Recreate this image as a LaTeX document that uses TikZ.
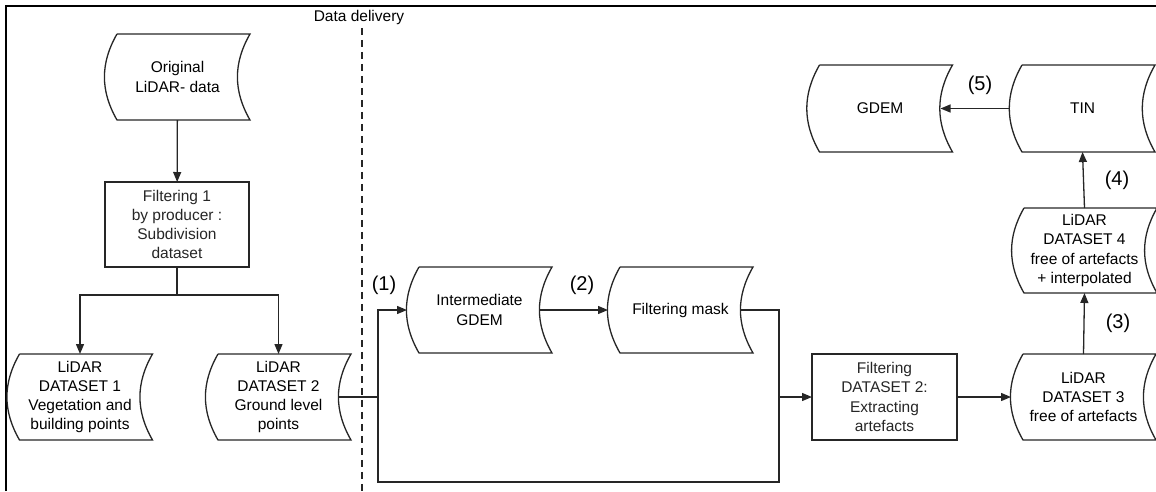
\documentclass[tikz,border=0pt]{standalone}
\usepackage{fontspec}
\setmainfont{Liberation Sans}
\usetikzlibrary{arrows.meta}

\tikzset{
  >={Triangle[length=10pt,width=8pt]},
  flow/.style={line width=1.3pt,black!85},
  stored/.style={minimum width=145pt, minimum height=86pt, inner sep=0pt, outer sep=0pt, align=center,
    append after command={\pgfextra{\draw[flow] ([xshift=12pt]\tikzlastnode.north west) -- (\tikzlastnode.north east)
      to[bend right=30] (\tikzlastnode.south east) -- ([xshift=12pt]\tikzlastnode.south west)
      to[bend left=30] ([xshift=12pt]\tikzlastnode.north west);}}},
  procbox/.style={flow, draw, minimum width=144pt, minimum height=85pt, inner sep=2pt, outer sep=0pt, align=center},
  numlabel/.style={font=\fontsize{20}{24}\selectfont},
}

\begin{document}
\begin{tikzpicture}[x=1pt,y=-1pt,font=\fontsize{15.5}{19.3}\selectfont]
    \useasboundingbox (0,0) rectangle (1156,491);
    \draw [line width=2.5pt] (6,491) -- (6,6) -- (1156,6);

    % data delivery border
    \node (deliv) at (359,17) {Data delivery};
    \coordinate (dl) at (362,491);
    \draw [flow,dash pattern=on 7pt off 5pt] (deliv.south -| dl) -- (dl);

    % producer side
    \node[stored] (orig) at (177.5,77) {Original\\LiDAR- data};
    \node[procbox] (filt1) at (177,224.5) {Filtering 1\\by producer :\\Subdivision\\dataset};
    \node[stored] (ds1) at (80,397) {LiDAR\\DATASET 1\\Vegetation and\\building points};
    \node[stored] (ds2) at (278.5,397) {LiDAR\\DATASET 2\\Ground level\\points};

    % user side
    \node[stored] (igdem) at (479.5,310) {Intermediate\\GDEM};
    \node[stored] (mask) at (680.5,310) {Filtering mask};
    \node[procbox,minimum width=145pt,minimum height=86pt] (filt2) at (884.5,397) {Filtering\\DATASET 2:\\Extracting\\artefacts};
    \node[stored] (ds3) at (1083.5,397) {LiDAR\\DATASET 3\\free of artefacts};
    \node[stored,minimum height=85pt] (ds4) at (1084.5,250.5) {LiDAR\\DATASET 4\\free of artefacts\\+ interpolated};
    \node[stored,minimum height=87pt] (tin) at (1082.5,108.5) {TIN};
    \node[stored,minimum height=87pt] (gdem) at (880,108.5) {GDEM};

    \coordinate (j1) at (378,397);
    \coordinate (j2) at (779,397);

    \draw [->,flow] (orig) -- (filt1);
    \draw [->,flow] (filt1.south) -- ++(0,28) -| (ds1.north);
    \draw [->,flow] (filt1.south) -- ++(0,28) -| (ds2.north);
    \draw [->,flow] ([xshift=-12pt]ds2.east) -- (j1) |- (igdem.west);
    \draw [flow] (j1) -- ++(0,85) -| (j2);
    \draw [->,flow] ([xshift=-12pt]igdem.east) -- (mask.west);
    \draw [->,flow] ([xshift=-12pt]mask.east) -| (j2) -- (filt2.west);
    \draw [->,flow] (filt2.east) -- (ds3.west);
    \draw [->,flow] (ds3.north) -- (ds4.south);
    \draw [->,flow] (ds4.north) -- (tin.south);
    \draw [->,flow] (tin.west) -- ([xshift=-12pt]gdem.east);

    \node[numlabel] (n1) at (384,285) {(1)};
    \node[numlabel] (n2) at (582,285) {(2)};
    \node[numlabel] (n3) at (1118,323) {(3)};
    \node[numlabel] (n4) at (1117,180) {(4)};
    \node[numlabel] (n5) at (980,85) {(5)};
\end{tikzpicture}
\end{document}
